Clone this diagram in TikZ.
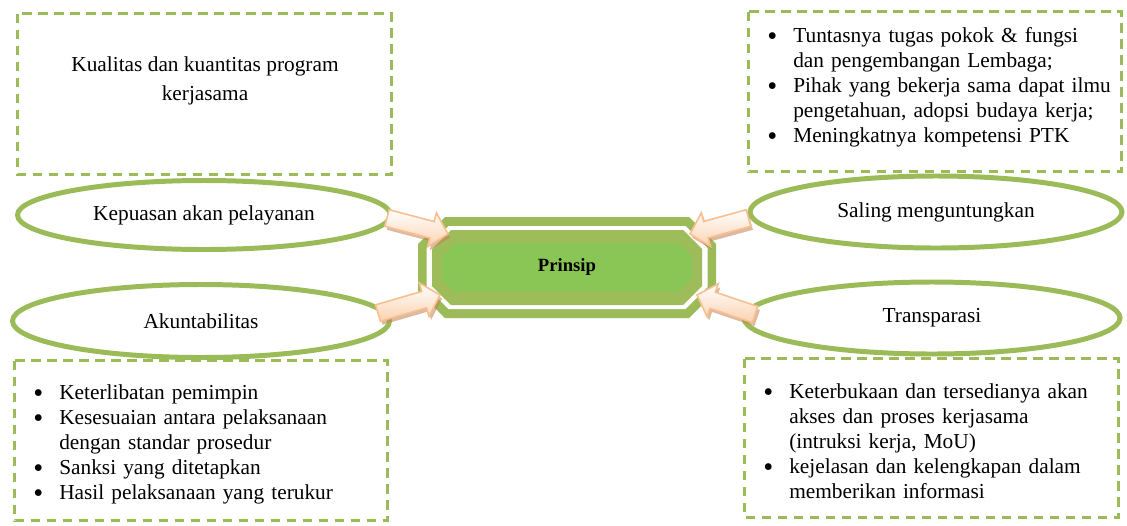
\documentclass[tikz,border=0pt]{standalone}
\usepackage{fontspec}
\setmainfont{Liberation Serif}
\usetikzlibrary{calc}
\usetikzlibrary{shapes.geometric}
\usetikzlibrary{shadows}
\definecolor{olive}{RGB}{155,187,89}
\definecolor{olivein}{RGB}{158,188,90}
\definecolor{leaf}{RGB}{138,198,86}
\definecolor{peach}{RGB}{251,210,176}
\definecolor{peachline}{RGB}{250,191,143}
\definecolor{peachshadow}{RGB}{190,130,85}
\newcommand{\pxu}{0.5625pt}
\newcommand{\bigbullet}{\makebox[0pt][r]{\raisebox{-1.6pt}{\fontsize{16}{14}\selectfont\textbullet}}}
\newenvironment{pointlist}{\begin{list}{\bigbullet}{%
  \setlength\leftmargin{12.9pt}\setlength\labelsep{9pt}%
  \setlength\labelwidth{3.9pt}\setlength\itemsep{0pt}%
  \setlength\parsep{0pt}\setlength\topsep{0pt}\setlength\partopsep{0pt}}}%
  {\end{list}}
\tikzset{
  dashbox/.style={draw=olive, line width=1.7pt, dash pattern=on 5.6pt off 3.4pt},
  oval/.style={ellipse, draw=olive, line width=2.8pt, fill=white, inner sep=0pt},
  listtext/.style={anchor=north west, inner sep=0pt, text width=230pt, align=left,
    font=\fontsize{12}{14.06}\selectfont},
  blockarrow/.style={draw=peachline, line width=0.9pt, top color=white, bottom color=peach,
    drop shadow={shadow xshift=1.2pt, shadow yshift=-2pt, fill=peachshadow, opacity=0.55}}
}

\begin{document}
\begin{tikzpicture}[x=\pxu, y=-\pxu]
\path[use as bounding box, fill=white] (0,0) rectangle (1127,525);

% kotak keterangan
\draw[dashbox] (17.5,13.5) rectangle (391.5,174.5);
\draw[dashbox] (748.5,11.5) rectangle (1121.5,171.5);
\draw[dashbox] (14.5,360.5) rectangle (387.5,520.5);
\draw[dashbox] (744.5,358.5) rectangle (1118.5,517.5);

\node[anchor=north, inner sep=0pt, align=center, font=\fontsize{12}{16.3}\selectfont]
  (kualitas) at (205,56) {Kualitas dan kuantitas program\\kerjasama};
\node[listtext] (untung) at (770,17.5) {\begin{pointlist}
  \item Tuntasnya tugas pokok \& fungsi\\dan pengembangan Lembaga;
  \item Pihak yang bekerja sama dapat ilmu\\pengetahuan, adopsi budaya kerja;
  \item Meningkatnya kompetensi PTK
\end{pointlist}};
\node[listtext] (akunlist) at (36,374.5) {\begin{pointlist}
  \item Keterlibatan pemimpin
  \item Kesesuaian antara pelaksanaan\\dengan standar prosedur
  \item Sanksi yang ditetapkan
  \item Hasil pelaksanaan yang terukur
\end{pointlist}};
\node[listtext] (translist) at (766,373.5) {\begin{pointlist}
  \item Keterbukaan dan tersedianya akan\\akses dan proses kerjasama\\(intruksi kerja, MoU)
  \item kejelasan dan kelengkapan dalam\\memberikan informasi
\end{pointlist}};

% elips
\node[oval, minimum width=373*\pxu, minimum height=69*\pxu, font=\fontsize{12}{14}\selectfont]
  (kepuasan) at (204,215) {Kepuasan akan pelayanan};
\node[oval, minimum width=377*\pxu, minimum height=73*\pxu, font=\fontsize{12}{14}\selectfont]
  (akun) at (201,321) {Akuntabilitas};
\node[oval, minimum width=372*\pxu, minimum height=72*\pxu, font=\fontsize{12}{14}\selectfont]
  (saling) at (936,212) {Saling menguntungkan};
\node[oval, minimum width=376*\pxu, minimum height=72*\pxu, font=\fontsize{12}{14}\selectfont]
  (trans) at (932,318) {Transparasi};

% segi delapan tengah
\begin{scope}[shift={(567,267.5)}]
\foreach \w/\h/\c/\col in {149/50.5/27/olive, 140.5/41.5/22/white, 135/37.5/19/olivein, 125/24.5/13/leaf}
  \fill[\col] (-\w+\c,-\h) -- (\w-\c,-\h) -- (\w,-\h+\c) -- (\w,\h-\c) -- (\w-\c,\h)
    -- (-\w+\c,\h) -- (-\w,\h-\c) -- (-\w,-\h+\c) -- cycle;
\end{scope}
\node[font=\bfseries\fontsize{10.5}{12}\selectfont] (prinsip) at (567,267.5) {Prinsip};

% panah
\coordinate (kep-out) at ($(kepuasan.east)+(-6,3)$);
\coordinate (kep-in) at ($(prinsip)+(-119,-33.5)$);
\coordinate (akun-out) at ($(akun.east)+(-14,-8)$);
\coordinate (akun-in) at ($(prinsip)+(-127,27.5)$);
\coordinate (sal-out) at ($(saling.west)+(1,6)$);
\coordinate (sal-in) at ($(prinsip)+(123,-33.5)$);
\coordinate (tr-out) at ($(trans.west)+(13.5,-3.5)$);
\coordinate (tr-in) at ($(prinsip)+(130,27.5)$);
\foreach \s/\t in {kep-out/kep-in, akun-out/akun-in, sal-out/sal-in, tr-out/tr-in}{
  \coordinate (neck) at ($(\t)!9.3pt!(\s)$);
  \draw[blockarrow] ($(\s)!4.8pt!90:(\t)$) -- ($(neck)!4.8pt!90:(\t)$) -- ($(neck)!9.8pt!90:(\t)$)
    -- (\t) -- ($(neck)!9.8pt!-90:(\t)$) -- ($(neck)!4.8pt!-90:(\t)$) -- ($(\s)!4.8pt!-90:(\t)$) -- cycle;
}
\end{tikzpicture}
\end{document}
